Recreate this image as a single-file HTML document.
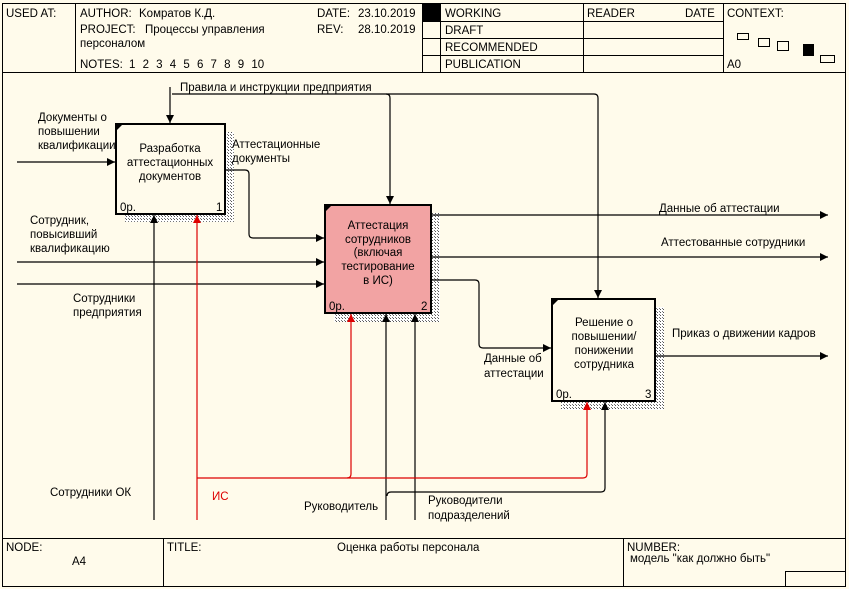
<!DOCTYPE html>
<html><head><meta charset="utf-8"><style>
html,body{margin:0;padding:0;background:#fffbeb;}
svg{display:block;font-family:"Liberation Sans","Noto Sans CJK SC",sans-serif;}
text{font-size:11.5px;fill:#000;}
</style></head><body>
<svg width="849" height="589" viewBox="0 0 849 589" xmlns="http://www.w3.org/2000/svg">
<defs>
<pattern id="h" width="3" height="3" patternUnits="userSpaceOnUse"><rect width="3" height="3" fill="#fff"/><rect width="1" height="1" fill="#555"/><rect x="2" y="2" width="1" height="1" fill="#777"/></pattern>
<marker id="a" markerWidth="8" markerHeight="8" refX="8" refY="4" orient="auto" markerUnits="userSpaceOnUse"><path d="M0,0 L8,4 L0,8z" fill="#000"/></marker>
<marker id="r" markerWidth="8" markerHeight="8" refX="8" refY="4" orient="auto" markerUnits="userSpaceOnUse"><path d="M0,0 L8,4 L0,8z" fill="#d00"/></marker>
</defs>
<rect width="849" height="589" fill="#fffbeb"/>
<g stroke="#000" fill="none" stroke-width="1">
<rect x="2.5" y="3.5" width="843" height="583"/>
<line x1="2" y1="72.5" x2="846" y2="72.5"/>
<line x1="75.5" y1="4" x2="75.5" y2="72"/>
<line x1="422.5" y1="4" x2="422.5" y2="72"/>
<line x1="440.5" y1="4" x2="440.5" y2="72"/>
<line x1="583.5" y1="4" x2="583.5" y2="72"/>
<line x1="723.5" y1="4" x2="723.5" y2="72"/>
<line x1="422" y1="21.5" x2="723" y2="21.5"/>
<line x1="422" y1="38.5" x2="723" y2="38.5"/>
<line x1="422" y1="55.5" x2="723" y2="55.5"/>
<line x1="2" y1="538.5" x2="846" y2="538.5"/>
<line x1="163.5" y1="538" x2="163.5" y2="587"/>
<line x1="623.5" y1="538" x2="623.5" y2="587"/>
<rect x="785.5" y="571.5" width="60" height="15"/>
<rect x="737.5" y="33.5" width="11" height="6"/>
<rect x="758.5" y="38.5" width="11" height="8"/>
<rect x="777.5" y="41.5" width="11" height="9"/>
<rect x="820.5" y="55.5" width="14" height="7"/>
</g>
<rect x="423" y="4" width="17" height="17" fill="#000"/>
<rect x="803" y="44" width="11" height="12" fill="#000"/>
<text x="6" y="17">USED AT:</text>
<text x="80" y="17">AUTHOR:</text><text x="139" y="17">Kомратов К.Д.</text>
<text x="317" y="17">DATE:</text><text x="358" y="17">23.10.2019</text>
<text x="80" y="33">PROJECT:</text><text x="145" y="33">Процессы управления</text>
<text x="317" y="33">REV:</text><text x="358" y="33">28.10.2019</text>
<text x="80" y="47">персоналом</text>
<text x="80" y="68">NOTES:</text><text x="129" y="68" style="word-spacing:4px">1 2 3 4 5 6 7 8 9 10</text>
<text x="445" y="17">WORKING</text>
<text x="445" y="34">DRAFT</text>
<text x="445" y="51">RECOMMENDED</text>
<text x="445" y="68">PUBLICATION</text>
<text x="587" y="17">READER</text>
<text x="685" y="17">DATE</text>
<text x="727" y="17">CONTEXT:</text>
<text x="727" y="68">A0</text>
<text x="6" y="551">NODE:</text>
<text x="72" y="565">A4</text>
<text x="167" y="551">TITLE:</text>
<text x="337" y="551">Оценка работы персонала</text>
<text x="627" y="551">NUMBER:</text>
<text x="630" y="562">модель "как должно быть"</text>
<rect x="125" y="132" width="109" height="90" fill="url(#h)"/>
<rect x="334" y="213" width="106" height="109" fill="url(#h)"/>
<rect x="561" y="307" width="103" height="103" fill="url(#h)"/>
<rect x="116" y="124" width="109" height="90" fill="#fffbeb" stroke="#000" stroke-width="2"/>
<rect x="325" y="205" width="106" height="108" fill="#f2a3a3" stroke="#000" stroke-width="2"/>
<rect x="552" y="299" width="103" height="102" fill="#fffbeb" stroke="#000" stroke-width="2"/>
<path d="M116,124 l7,0 l-7,7z M325,205 l7,0 l-7,7z M552,299 l7,0 l-7,7z" fill="#000"/>
<g text-anchor="middle">
<text x="170" y="152">Разработка</text><text x="170" y="166">аттестационных</text><text x="170" y="180">документов</text>
<text x="378" y="229">Аттестация</text><text x="378" y="243">сотрудников</text><text x="378" y="256">(включая</text><text x="378" y="270">тестирование</text><text x="378" y="284">в ИС)</text>
<text x="604" y="326">Решение о</text><text x="604" y="340">повышении/</text><text x="604" y="354">понижении</text><text x="604" y="368">сотрудника</text>
</g>
<text x="120" y="211">0р.</text><text x="216" y="211">1</text>
<text x="329" y="310">0р.</text><text x="421" y="310">2</text>
<text x="556" y="398">0р.</text><text x="645" y="398">3</text>
<g stroke="#000" fill="none" stroke-width="1.2">
<path d="M170,87 V123" marker-end="url(#a)"/>
<path d="M172,94 H594 q4,0 4,4 V298" marker-end="url(#a)"/>
<path d="M386,94 q4,0 4,4 V204" marker-end="url(#a)"/>
<path d="M17,162 H115" marker-end="url(#a)"/>
<path d="M226,170 H245 q4,0 4,4 V234 q0,4 4,4 H324" marker-end="url(#a)"/>
<path d="M17,262 H324" marker-end="url(#a)"/>
<path d="M17,284 H324" marker-end="url(#a)"/>
<path d="M432,215 H828" marker-end="url(#a)"/>
<path d="M432,257 H828" marker-end="url(#a)"/>
<path d="M432,280 H475 q4,0 4,4 V344 q0,4 4,4 H551" marker-end="url(#a)"/>
<path d="M656,356 H828" marker-end="url(#a)"/>
<path d="M154,520 V215" marker-end="url(#a)"/>
<path d="M386,520 V314" marker-end="url(#a)"/>
<path d="M415,520 V314" marker-end="url(#a)"/>
<path d="M387,496 q0,-4 4,-4 H601 q4,0 4,-4 V402" marker-end="url(#a)"/>
</g>
<g stroke="#d00" fill="none" stroke-width="1.2">
<path d="M197,520 V215" marker-end="url(#r)"/>
<path d="M197,478 H583 q4,0 4,-4 V402" marker-end="url(#r)"/>
<path d="M347,478 q4,0 4,-4 V314" marker-end="url(#r)"/>
</g>
<text x="180" y="91">Правила и инструкции предприятия</text>
<text x="38" y="121">Документы о</text><text x="38" y="135">повышении</text><text x="38" y="149">квалификации</text>
<text x="232" y="148">Аттестационные</text><text x="232" y="162">документы</text>
<text x="30" y="224">Сотрудник,</text><text x="30" y="238">повысивший</text><text x="30" y="252">квалификацию</text>
<text x="73" y="302">Сотрудники</text><text x="73" y="316">предприятия</text>
<text x="659" y="212">Данные об аттестации</text>
<text x="661" y="246">Аттестованные сотрудники</text>
<text x="484" y="362">Данные об</text><text x="484" y="377">аттестации</text>
<text x="672" y="337">Приказ о движении кадров</text>
<text x="50" y="496">Сотрудники ОК</text>
<text x="212" y="500" style="fill:#d00">ИС</text>
<text x="304" y="510">Руководитель</text>
<text x="428" y="504">Руководители</text><text x="428" y="519">подразделений</text>
</svg>
</body></html>
